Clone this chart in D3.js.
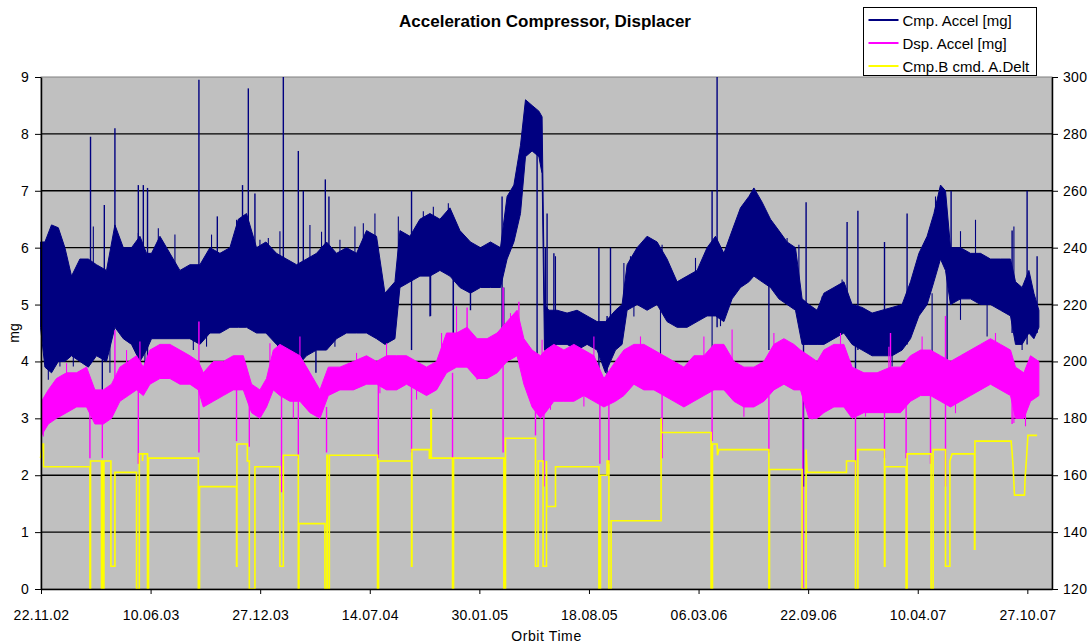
<!DOCTYPE html>
<html>
<head>
<meta charset="utf-8">
<script src="https://cdn.jsdelivr.net/npm/d3@7"></script>
<style>
  body { margin: 0; background: #fff; }
  svg { display: block; font-family: "Liberation Sans", Arial, sans-serif; }
</style>
</head>
<body>
<div id="chart"></div>
<script>
// tick labels
const xTickLabels = ['22.11.02', '10.06.03', '27.12.03', '14.07.04', '30.01.05', '18.08.05', '06.03.06', '22.09.06', '10.04.07', '27.10.07'];
const leftTicks = [0, 1, 2, 3, 4, 5, 6, 7, 8, 9];
const rightTicks = [120, 140, 160, 180, 200, 220, 240, 260, 280, 300];
const seriesNames = ['Cmp. Accel [mg]', 'Dsp. Accel [mg]', 'Cmp.B cmd. A.Delt'];
const seriesColors = ['#000080', '#ff00ff', '#ffff00'];

// Cmp. Accel envelope: [decimal year, low mg, high mg]
const cmpBand = [
  [2002.888, 4.6, 6.1], [2002.910, 3.9, 6.1], [2002.943, 3.8, 6.4], [2002.977, 4.0, 6.35], [2003.010, 4.0, 6.0],
  [2003.043, 4.1, 5.5], [2003.085, 4.0, 5.8], [2003.127, 3.9, 5.8], [2003.168, 4.1, 5.7], [2003.218, 4.0, 5.6],
  [2003.260, 4.6, 6.4], [2003.302, 4.4, 6.0], [2003.343, 4.3, 6.0], [2003.385, 4.0, 6.2], [2003.418, 4.2, 5.9],
  [2003.443, 4.4, 5.9], [2003.485, 4.4, 6.2], [2003.535, 4.4, 5.9], [2003.585, 4.4, 5.6], [2003.635, 4.4, 5.7],
  [2003.685, 4.3, 5.7], [2003.735, 4.5, 6.0], [2003.785, 4.5, 5.9], [2003.835, 4.6, 6.0], [2003.877, 4.6, 6.5],
  [2003.918, 4.6, 6.6], [2003.968, 4.5, 6.0], [2004.015, 4.5, 6.1], [2004.068, 4.3, 5.9], [2004.118, 4.1, 5.8],
  [2004.168, 3.9, 5.7], [2004.218, 4.1, 5.8], [2004.268, 4.2, 5.9], [2004.318, 4.2, 6.1], [2004.368, 4.4, 5.9],
  [2004.418, 4.5, 6.0], [2004.468, 4.5, 5.9], [2004.518, 4.5, 6.3], [2004.568, 4.4, 6.2], [2004.610, 4.3, 5.2],
  [2004.660, 4.4, 5.4], [2004.685, 5.3, 6.3], [2004.735, 5.4, 6.2], [2004.785, 5.5, 6.5], [2004.835, 5.5, 6.6],
  [2004.885, 5.6, 6.5], [2004.935, 5.5, 6.7], [2004.985, 5.3, 6.3], [2005.035, 5.2, 6.1], [2005.085, 5.3, 6.0],
  [2005.135, 5.3, 6.1], [2005.185, 5.3, 6.0], [2005.218, 5.8, 6.9], [2005.252, 6.1, 7.1], [2005.285, 6.6, 7.8],
  [2005.310, 7.6, 8.6], [2005.343, 7.7, 8.5], [2005.377, 7.6, 8.4], [2005.393, 7.3, 8.3], [2005.405, 4.2, 5.0],
  [2005.427, 4.2, 4.9], [2005.468, 4.3, 4.9], [2005.518, 4.3, 4.85], [2005.568, 4.2, 4.9], [2005.618, 4.3, 4.8],
  [2005.668, 4.2, 4.7], [2005.710, 3.8, 4.7], [2005.760, 4.2, 4.9], [2005.793, 4.3, 5.0], [2005.818, 4.9, 5.7],
  [2005.868, 5.0, 6.0], [2005.918, 4.9, 6.2], [2005.968, 5.0, 6.1], [2006.018, 4.7, 5.8], [2006.068, 4.6, 5.4],
  [2006.118, 4.6, 5.5], [2006.168, 4.7, 5.6], [2006.218, 4.8, 6.0], [2006.260, 4.8, 6.2], [2006.302, 4.7, 5.9],
  [2006.343, 5.1, 6.3], [2006.385, 5.3, 6.7], [2006.427, 5.4, 6.9], [2006.452, 5.5, 7.05], [2006.493, 5.4, 6.8],
  [2006.535, 5.3, 6.5], [2006.577, 5.1, 6.3], [2006.618, 5.0, 6.1], [2006.660, 4.9, 6.0], [2006.693, 4.3, 5.1],
  [2006.727, 4.3, 5.0], [2006.768, 4.3, 4.9], [2006.802, 4.3, 5.2], [2006.852, 4.4, 5.3], [2006.902, 4.5, 5.4],
  [2006.943, 4.3, 5.0], [2006.993, 4.2, 4.95], [2007.043, 4.1, 4.85], [2007.093, 4.1, 4.9], [2007.143, 4.1, 4.95],
  [2007.193, 4.2, 5.0], [2007.235, 4.4, 5.4], [2007.277, 4.8, 5.9], [2007.318, 5.0, 6.2], [2007.352, 5.4, 6.6],
  [2007.385, 5.8, 7.1], [2007.410, 5.6, 7.0], [2007.435, 5.0, 6.0], [2007.485, 5.1, 6.0], [2007.535, 5.1, 5.9],
  [2007.585, 5.0, 5.9], [2007.635, 5.0, 5.8], [2007.685, 4.9, 5.8], [2007.735, 4.8, 5.8], [2007.760, 4.3, 5.4],
  [2007.793, 4.3, 5.3], [2007.827, 4.5, 5.6], [2007.852, 4.4, 5.2], [2007.877, 4.6, 4.9]
];

// large outliers of Cmp. Accel: [decimal year, low mg, high mg]
const cmpSpikes = [
  [2003.138, 5.5, 7.95], [2003.197, 3.2, 5.0], [2003.207, 4.0, 6.75], [2003.260, 5.5, 8.1], [2003.377, 5.0, 7.1],
  [2003.402, 5.0, 7.1], [2003.423, 3.75, 7.05], [2003.680, 4.5, 8.95], [2003.772, 5.0, 6.55], [2003.898, 5.5, 7.1],
  [2003.927, 5.5, 8.8], [2003.960, 5.0, 6.95], [2004.102, 3.7, 9.0], [2004.177, 4.5, 7.7], [2004.202, 4.5, 7.0],
  [2004.265, 3.8, 5.0], [2004.312, 4.5, 7.2], [2004.330, 4.5, 6.9], [2004.743, 4.2, 7.0], [2004.838, 4.8, 6.0],
  [2004.952, 4.3, 6.0], [2005.035, 4.9, 6.0], [2005.193, 4.0, 6.9], [2005.368, 3.5, 8.0], [2005.410, 3.7, 6.0],
  [2005.418, 4.5, 6.6], [2005.452, 4.5, 5.9], [2005.677, 3.7, 6.0], [2005.718, 3.6, 4.8], [2005.735, 4.2, 6.0],
  [2006.243, 4.8, 7.0], [2006.268, 4.6, 9.0], [2006.527, 4.2, 5.5], [2006.700, 1.8, 5.0], [2006.713, 4.4, 6.8],
  [2006.918, 4.5, 6.45], [2006.960, 3.6, 5.0], [2006.972, 4.2, 6.65], [2007.105, 4.2, 6.1], [2007.218, 4.3, 6.6],
  [2007.418, 3.45, 6.0], [2007.438, 5.0, 7.0], [2007.743, 4.5, 6.3], [2007.818, 4.3, 7.0], [2007.868, 4.5, 5.85]
];

// small outliers of Cmp. Accel along the band edges
const cmpMinor = [
  [2003.152, 5.6, 6.37], [2003.377, 5.6, 6.26], [2003.477, 5.6, 6.34], [2003.560, 5.4, 6.23], [2003.743, 5.6, 6.23],
  [2003.868, 5.6, 6.49], [2003.935, 5.6, 6.34], [2003.985, 5.5, 6.14], [2004.027, 5.6, 6.17], [2004.085, 5.5, 6.29],
  [2004.235, 5.4, 6.4], [2004.293, 5.5, 6.28], [2004.385, 5.5, 6.14], [2004.460, 5.5, 6.37], [2004.502, 5.5, 6.43],
  [2004.560, 5.6, 6.6], [2004.677, 5.0, 6.55], [2004.802, 6.0, 6.64], [2004.852, 6.0, 6.72], [2004.927, 6.0, 6.78],
  [2005.460, 4.5, 5.85], [2005.802, 5.0, 5.73], [2005.835, 5.4, 5.85], [2005.927, 5.6, 6.14], [2005.993, 5.6, 6.05],
  [2006.160, 5.2, 5.82], [2006.318, 5.4, 5.85], [2006.360, 5.8, 6.4], [2006.618, 5.8, 6.17], [2006.677, 5.0, 6.05],
  [2006.793, 4.8, 5.14], [2006.893, 4.9, 5.44], [2007.302, 5.2, 5.85], [2007.360, 6.2, 6.9], [2007.485, 5.6, 6.29],
  [2007.560, 5.6, 6.49], [2007.752, 5.0, 6.37],
  [2002.927, 3.68, 4.4], [2002.985, 3.91, 4.5], [2003.052, 3.91, 4.5], [2003.235, 3.8, 4.4], [2003.410, 3.68, 4.4],
  [2003.652, 4.2, 4.7], [2003.718, 4.26, 4.7], [2004.160, 4.26, 4.6], [2004.185, 4.03, 4.5], [2004.360, 4.26, 4.6],
  [2004.585, 4.62, 5.0], [2004.835, 4.79, 5.6], [2004.952, 4.44, 5.5], [2005.202, 4.44, 5.3], [2005.768, 4.26, 4.6],
  [2005.852, 4.79, 5.2], [2005.985, 3.97, 5.0], [2006.243, 4.12, 4.9], [2006.285, 4.62, 5.0], [2007.043, 4.15, 4.4],
  [2007.143, 3.91, 4.3], [2007.343, 4.09, 5.2], [2007.485, 4.73, 5.2], [2007.618, 4.44, 5.0], [2007.793, 4.2, 4.5]
];

// Dsp. Accel envelope: [decimal year, low mg, high mg]
const dspBand = [
  [2002.893, 2.7, 3.3], [2002.927, 2.9, 3.5], [2002.968, 3.0, 3.7], [2003.018, 3.1, 3.8], [2003.068, 3.2, 3.8],
  [2003.118, 3.2, 3.9], [2003.160, 2.9, 3.5], [2003.202, 2.9, 3.5], [2003.243, 3.0, 3.6], [2003.285, 3.3, 3.9],
  [2003.327, 3.4, 4.0], [2003.368, 3.5, 4.1], [2003.402, 3.4, 3.9], [2003.435, 3.6, 4.2], [2003.485, 3.7, 4.3],
  [2003.535, 3.7, 4.3], [2003.585, 3.6, 4.2], [2003.635, 3.6, 4.1], [2003.677, 3.5, 4.0], [2003.702, 3.2, 3.8],
  [2003.752, 3.3, 4.0], [2003.802, 3.4, 4.0], [2003.852, 3.5, 4.1], [2003.902, 3.5, 4.1], [2003.943, 3.1, 3.6],
  [2003.985, 3.0, 3.5], [2004.018, 3.2, 3.7], [2004.052, 3.5, 4.2], [2004.085, 3.4, 4.3], [2004.135, 3.3, 4.2],
  [2004.185, 3.3, 4.1], [2004.235, 3.1, 3.8], [2004.285, 3.0, 3.5], [2004.327, 3.4, 3.9], [2004.385, 3.5, 3.9],
  [2004.452, 3.5, 4.0], [2004.518, 3.6, 4.1], [2004.568, 3.6, 4.0], [2004.618, 3.5, 4.1], [2004.668, 3.5, 4.1],
  [2004.718, 3.6, 4.1], [2004.768, 3.5, 4.0], [2004.818, 3.4, 3.9], [2004.868, 3.5, 4.0], [2004.918, 3.8, 4.5],
  [2004.968, 3.9, 4.5], [2005.018, 3.9, 4.6], [2005.068, 3.7, 4.4], [2005.118, 3.7, 4.4], [2005.168, 3.8, 4.5],
  [2005.218, 4.0, 4.7], [2005.268, 4.1, 4.9], [2005.302, 3.6, 4.4], [2005.343, 3.2, 4.2], [2005.385, 3.0, 4.1],
  [2005.410, 3.1, 4.2], [2005.452, 3.3, 4.3], [2005.502, 3.3, 4.2], [2005.552, 3.3, 4.3], [2005.602, 3.4, 4.2],
  [2005.652, 3.3, 4.1], [2005.702, 3.2, 3.7], [2005.760, 3.3, 4.0], [2005.802, 3.4, 4.2], [2005.852, 3.6, 4.3],
  [2005.902, 3.5, 4.3], [2005.952, 3.5, 4.2], [2006.002, 3.4, 4.1], [2006.052, 3.3, 4.0], [2006.102, 3.2, 3.9],
  [2006.152, 3.3, 4.1], [2006.202, 3.4, 4.1], [2006.252, 3.5, 4.3], [2006.302, 3.5, 4.3], [2006.352, 3.3, 4.0],
  [2006.402, 3.2, 3.9], [2006.452, 3.2, 3.9], [2006.502, 3.3, 4.0], [2006.552, 3.5, 4.3], [2006.602, 3.6, 4.4],
  [2006.652, 3.5, 4.3], [2006.685, 3.5, 4.2], [2006.727, 3.0, 4.1], [2006.768, 3.0, 4.0], [2006.802, 3.1, 4.2],
  [2006.852, 3.2, 4.3], [2006.902, 3.2, 4.3], [2006.943, 3.0, 3.9], [2007.002, 3.1, 3.8], [2007.068, 3.1, 3.8],
  [2007.135, 3.1, 3.9], [2007.185, 3.1, 3.9], [2007.235, 3.3, 4.1], [2007.285, 3.4, 4.2], [2007.335, 3.4, 4.2],
  [2007.385, 3.3, 4.1], [2007.435, 3.2, 4.0], [2007.485, 3.3, 4.1], [2007.535, 3.4, 4.2], [2007.585, 3.5, 4.3],
  [2007.635, 3.6, 4.4], [2007.685, 3.5, 4.3], [2007.735, 3.4, 4.2], [2007.760, 3.0, 3.9], [2007.802, 3.0, 3.8],
  [2007.835, 3.3, 4.1], [2007.877, 3.4, 4.0]
];

// large outliers of Dsp. Accel: [decimal year, low mg, high mg]
const dspSpikes = [
  [2003.135, 2.3, 3.6], [2003.197, 2.3, 3.2], [2003.260, 3.5, 4.55], [2003.377, 2.2, 3.6], [2003.680, 2.4, 4.7],
  [2003.868, 2.6, 3.6], [2003.932, 2.5, 3.4], [2004.093, 1.7, 3.5], [2004.177, 2.3, 3.4], [2004.318, 2.4, 3.2],
  [2004.577, 2.3, 3.6], [2004.743, 2.4, 3.6], [2004.948, 2.3, 3.8], [2005.018, 4.0, 4.95], [2005.198, 2.4, 5.3],
  [2005.277, 4.2, 5.05], [2005.360, 2.7, 3.6], [2005.402, 1.8, 3.2], [2005.682, 2.2, 3.3], [2005.727, 2.2, 3.3],
  [2005.993, 2.3, 3.5], [2006.243, 2.6, 3.5], [2006.527, 2.4, 3.4], [2006.697, 0, 3.5], [2006.960, 2.0, 3.1],
  [2007.105, 2.3, 3.2], [2007.135, 3.5, 4.5], [2007.213, 2.3, 3.3], [2007.335, 2.2, 3.4], [2007.410, 1.8, 4.8],
  [2007.743, 2.9, 3.6]
];

// small outliers of Dsp. Accel along the band edges
const dspMinor = [
  [2003.018, 3.6, 3.97], [2003.318, 3.8, 4.2], [2003.385, 3.9, 4.35], [2004.035, 3.8, 4.32], [2004.185, 3.8, 4.44],
  [2004.468, 3.8, 4.15], [2004.618, 3.8, 4.32], [2004.893, 4.1, 4.5], [2004.968, 4.3, 4.97], [2005.235, 4.5, 4.85],
  [2005.393, 3.9, 4.38], [2005.652, 3.9, 4.44], [2005.885, 4.0, 4.44], [2006.202, 3.9, 4.44], [2006.343, 3.9, 4.56],
  [2006.552, 4.0, 4.5], [2006.885, 4.0, 4.5], [2007.127, 3.7, 4.26], [2007.293, 3.9, 4.44], [2007.660, 4.0, 4.5],
  [2002.902, 2.68, 3.2], [2002.952, 2.98, 3.4], [2004.152, 3.0, 3.6], [2004.268, 3.1, 3.5], [2004.585, 3.44, 3.7],
  [2004.768, 3.33, 3.7], [2005.068, 3.68, 4.0], [2005.335, 3.33, 3.8], [2005.435, 3.15, 3.5], [2005.602, 3.21, 3.5],
  [2006.102, 3.27, 3.5], [2006.402, 3.03, 3.4], [2006.743, 2.98, 3.3], [2007.010, 3.03, 3.3], [2007.460, 3.09, 3.4],
  [2007.752, 2.92, 3.3], [2007.810, 2.86, 3.2]
];

// Cmp.B cmd. A.Delt (right axis): [decimal year, value]
const deltSteps = [
  [2002.888, 166], [2002.898, 171], [2002.903, 171], [2002.903, 163],
  [2003.135, 163], [2003.135, 120], [2003.138, 120], [2003.138, 165],
  [2003.193, 165], [2003.193, 120], [2003.199, 120], [2003.199, 165], [2003.201, 165], [2003.201, 120], [2003.205, 120], [2003.205, 165],
  [2003.240, 165], [2003.240, 128], [2003.260, 128], [2003.260, 161],
  [2003.368, 161], [2003.368, 120], [2003.382, 120], [2003.382, 167.5],
  [2003.398, 167.5], [2003.398, 165], [2003.400, 167.5],
  [2003.423, 167.5], [2003.423, 120], [2003.428, 120], [2003.428, 166],
  [2003.677, 166], [2003.677, 120], [2003.683, 120], [2003.683, 156],
  [2003.868, 156], [2003.868, 128], [2003.870, 128], [2003.870, 171],
  [2003.922, 171], [2003.922, 165], [2003.932, 165], [2003.932, 120],
  [2003.960, 120], [2003.960, 163],
  [2004.085, 163], [2004.085, 128], [2004.102, 128], [2004.102, 167],
  [2004.177, 167], [2004.177, 120], [2004.180, 120], [2004.180, 143],
  [2004.310, 143], [2004.310, 120], [2004.320, 120], [2004.320, 167], [2004.322, 167], [2004.322, 120], [2004.332, 120], [2004.332, 167],
  [2004.573, 167], [2004.573, 120], [2004.578, 120], [2004.578, 165],
  [2004.743, 165], [2004.743, 128], [2004.745, 128], [2004.745, 169],
  [2004.832, 169], [2004.832, 166], [2004.840, 166], [2004.840, 183], [2004.842, 183], [2004.842, 166],
  [2004.948, 166], [2004.948, 120], [2004.953, 120], [2004.953, 166],
  [2005.202, 166], [2005.202, 120], [2005.210, 120], [2005.210, 173],
  [2005.360, 173], [2005.360, 128], [2005.373, 128], [2005.373, 165],
  [2005.398, 165], [2005.398, 128], [2005.415, 128], [2005.415, 165], [2005.417, 149],
  [2005.460, 149], [2005.460, 163],
  [2005.677, 163], [2005.677, 120], [2005.685, 120], [2005.685, 160],
  [2005.718, 160], [2005.718, 165], [2005.727, 165], [2005.727, 120], [2005.738, 120], [2005.738, 144],
  [2005.988, 144], [2005.988, 180], [2005.990, 175],
  [2006.238, 175], [2006.238, 120], [2006.245, 120], [2006.245, 171],
  [2006.268, 171], [2006.270, 167], [2006.277, 169],
  [2006.527, 169], [2006.527, 120], [2006.530, 120], [2006.530, 162],
  [2006.693, 162], [2006.693, 120], [2006.713, 120], [2006.713, 169], [2006.718, 161],
  [2006.915, 161], [2006.915, 165],
  [2006.960, 165], [2006.960, 120], [2006.972, 120], [2006.972, 169],
  [2007.105, 169], [2007.105, 128], [2007.107, 128], [2007.107, 163],
  [2007.213, 163], [2007.213, 120], [2007.218, 120], [2007.218, 167.5],
  [2007.338, 167.5], [2007.338, 120], [2007.348, 120], [2007.348, 169],
  [2007.410, 169], [2007.410, 128], [2007.432, 128], [2007.432, 165], [2007.443, 167.5],
  [2007.555, 167.5], [2007.555, 134], [2007.557, 134], [2007.557, 172],
  [2007.738, 172], [2007.743, 168], [2007.748, 163], [2007.755, 153],
  [2007.805, 153], [2007.808, 159], [2007.815, 166], [2007.822, 174],
  [2007.868, 174]
];

const width = 1091;
const height = 643;
const margin = { top: 77, right: 39, bottom: 54, left: 41 };
const iw = width - margin.left - margin.right;
const ih = height - margin.top - margin.bottom;

const parseTick = d3.timeParse('%d.%m.%y');
const tickDates = xTickLabels.map(parseTick);

// decimal year -> Date
function yrToDate(y) {
  const yy = Math.floor(y);
  const start = new Date(yy, 0, 1).getTime();
  return new Date(start + (y - yy) * 365 * 864e5);
}

const svg = d3.select('#chart')
  .append('svg')
  .attr('width', width)
  .attr('height', height);

const g = svg.append('g')
  .attr('transform', `translate(${margin.left},${margin.top})`);

// Scales
const x = d3.scaleTime()
  .domain([tickDates[0], d3.timeDay.offset(tickDates[tickDates.length - 1], 45)])
  .range([0, iw]);
const yL = d3.scaleLinear().domain([0, 9]).range([ih, 0]);
const yR = d3.scaleLinear().domain([120, 300]).range([ih, 0]);

// Plot area
g.append('rect')
  .attr('width', iw)
  .attr('height', ih)
  .attr('fill', '#c0c0c0')
  .attr('stroke', '#808080')
  .attr('stroke-width', 1);

// Gridlines
g.append('g')
  .selectAll('line')
  .data(leftTicks.filter(d => d > 0 && d < 9))
  .join('line')
  .attr('x1', 0)
  .attr('x2', iw)
  .attr('y1', d => yL(d))
  .attr('y2', d => yL(d))
  .attr('stroke', '#000')
  .attr('stroke-width', 1.4);

// Bands + outliers
function drawBand(band, spikes, minor, color) {
  const area = d3.area()
    .x(d => x(yrToDate(d[0])))
    .y0(d => yL(d[1]))
    .y1(d => yL(d[2]));

  g.append('path')
    .datum(band)
    .attr('fill', color)
    .attr('stroke', color)
    .attr('stroke-width', 1)
    .attr('stroke-linejoin', 'bevel')
    .attr('d', area);

  [[minor, 1.1], [spikes, 1.4]].forEach(([list, sw]) => {
    g.append('g')
      .selectAll('line')
      .data(list)
      .join('line')
      .attr('x1', d => x(yrToDate(d[0])))
      .attr('x2', d => x(yrToDate(d[0])))
      .attr('y1', d => yL(d[1]))
      .attr('y2', d => yL(d[2]))
      .attr('stroke', color)
      .attr('stroke-width', sw);
  });
}

drawBand(cmpBand, cmpSpikes, cmpMinor, seriesColors[0]);
drawBand(dspBand, dspSpikes, dspMinor, seriesColors[1]);

// Step line on right axis
const line = d3.line()
  .x(d => x(yrToDate(d[0])))
  .y(d => yR(d[1]));

g.append('path')
  .datum(deltSteps)
  .attr('fill', 'none')
  .attr('stroke', seriesColors[2])
  .attr('stroke-width', 1.6)
  .attr('d', line);

// Axes
function styleAxis(sel) {
  sel.attr('font-family', null).attr('font-size', null);
  sel.selectAll('text').attr('fill', '#000').style('font-size', '14px').style('letter-spacing', '0.3px');
  sel.selectAll('line').attr('stroke', '#000');
  sel.select('.domain').attr('stroke', '#000').attr('stroke-width', 1.5);
}

g.append('g')
  .call(d3.axisLeft(yL).tickValues(leftTicks).tickSize(6).tickSizeOuter(0).tickPadding(6).tickFormat(d3.format('d')))
  .call(styleAxis);

g.append('g')
  .attr('transform', `translate(${iw},0)`)
  .call(d3.axisRight(yR).tickValues(rightTicks).tickSize(6).tickSizeOuter(0).tickPadding(5))
  .call(styleAxis);

g.append('g')
  .attr('transform', `translate(0,${ih})`)
  .call(d3.axisBottom(x).tickValues(tickDates).tickSize(5).tickSizeOuter(0).tickPadding(16)
    .tickFormat((d, i) => xTickLabels[i]))
  .call(styleAxis);

// Title
svg.append('text')
  .attr('x', 545)
  .attr('y', 27)
  .attr('text-anchor', 'middle')
  .style('font-size', '17px')
  .style('font-weight', 'bold')
  .text('Acceleration Compressor, Displacer');

// Axis labels
svg.append('text')
  .attr('transform', `translate(19,${margin.top + ih / 2}) rotate(-90)`)
  .attr('text-anchor', 'middle')
  .style('font-size', '14px')
  .text('mg');

svg.append('text')
  .attr('x', margin.left + iw / 2)
  .attr('y', 641)
  .attr('text-anchor', 'middle')
  .style('font-size', '14px')
  .style('letter-spacing', '0.6px')
  .text('Orbit Time');

// Legend
const legend = svg.append('g').attr('transform', 'translate(863.5,7.5)');
legend.append('rect')
  .attr('width', 173)
  .attr('height', 68)
  .attr('fill', '#fff')
  .attr('stroke', '#000');

seriesNames.forEach((name, i) => {
  const row = legend.append('g').attr('transform', `translate(0,${12.5 + i * 23})`);
  row.append('line')
    .attr('x1', 5).attr('x2', 35)
    .attr('stroke', seriesColors[i])
    .attr('stroke-width', 2);
  row.append('text')
    .attr('x', 39)
    .attr('y', 5.5)
    .style('font-size', '15px')
    .text(name);
});
</script>
</body>
</html>
